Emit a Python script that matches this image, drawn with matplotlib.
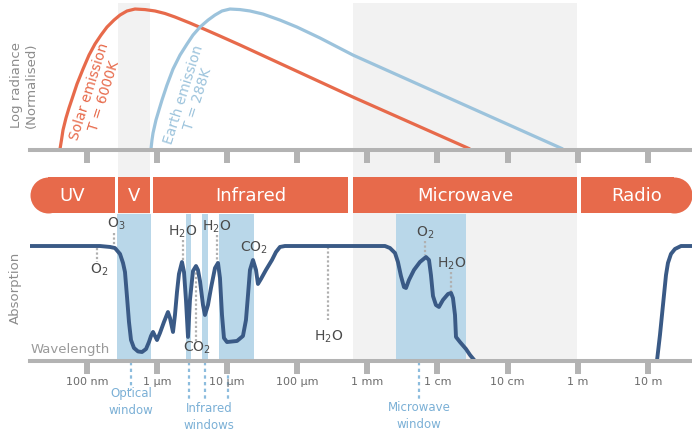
import numpy as np
import matplotlib
matplotlib.use("Agg")
import matplotlib.pyplot as plt
from matplotlib.transforms import blended_transform_factory

# x values are log10(wavelength in metres)
tick_pos = [-7, -6, -5, -4, -3, -2, -1, 0, 1]
tick_labels = ["100 nm", "1 µm", "10 µm", "100 µm", "1 mm", "1 cm", "10 cm", "1 m", "10 m"]

band_names = ["UV", "V", "Infrared", "Microwave", "Radio"]
band_start = [-7.813, -6.558, -6.058, -3.205, 0.047]
band_end = [-6.601, -6.101, -3.277, -0.010, 1.631]

gray_start = [-6.558, -3.205]
gray_end = [-6.101, -0.010]

window_start = [-6.572, -5.588, -5.360, -5.117, -2.592]
window_end = [-6.087, -5.516, -5.274, -4.618, -1.593]

# normalised log radiance
solar_x = [-7.385, -7.364, -7.342, -7.300, -7.257, -7.214, -7.143, -7.057, -6.971, -6.886,
           -6.800, -6.715, -6.615, -6.529, -6.429, -6.315, -6.173, -6.030, -5.887, -5.745,
           -5.531, -5.317, -5.103, -4.817, -3.205, -1.536]
solar_y = [0.0, 0.064, 0.136, 0.221, 0.293, 0.357, 0.464, 0.571, 0.671, 0.750,
           0.814, 0.871, 0.921, 0.957, 0.986, 1.0, 0.996, 0.986, 0.968, 0.943,
           0.900, 0.854, 0.807, 0.743, 0.371, 0.0]

earth_x = [-6.087, -6.073, -6.058, -6.016, -5.973, -5.930, -5.859, -5.773, -5.673, -5.573,
           -5.488, -5.388, -5.273, -5.174, -5.074, -4.960, -4.817, -4.675, -4.489, -4.247,
           -4.004, -3.676, -3.205, -1.679, -0.210]
earth_y = [0.0, 0.064, 0.114, 0.207, 0.279, 0.350, 0.457, 0.571, 0.671, 0.750,
           0.814, 0.871, 0.921, 0.957, 0.986, 1.0, 0.996, 0.986, 0.964, 0.921,
           0.871, 0.793, 0.671, 0.329, 0.0]

# atmospheric absorption (1 = opaque)
abs_x = [-7.813, -6.815, -6.672, -6.601, -6.529, -6.486, -6.458, -6.429, -6.401, -6.372,
         -6.330, -6.272, -6.215, -6.158, -6.116, -6.087, -6.058, -6.030, -6.001, -5.959,
         -5.902, -5.845, -5.816, -5.773, -5.745, -5.716, -5.688, -5.645, -5.616, -5.588,
         -5.559, -5.531, -5.488, -5.445, -5.417, -5.388, -5.345, -5.317, -5.274, -5.231,
         -5.174, -5.131, -5.103, -5.074, -5.046, -5.003, -4.860, -4.775, -4.732, -4.703,
         -4.675, -4.632, -4.589, -4.561, -4.518, -4.447, -4.361, -4.304, -4.247, -4.176,
         -2.749, -2.678, -2.606, -2.564, -2.521, -2.478, -2.449, -2.407, -2.335, -2.250,
         -2.164, -2.121, -2.093, -2.064, -2.022, -1.979, -1.922, -1.850, -1.807, -1.779,
         -1.750, -1.736, -1.679, -1.593, -1.536, -1.465]
abs_y = [1.0, 1.0, 0.991, 0.981, 0.925, 0.840, 0.755, 0.519, 0.283, 0.113,
         0.038, 0.005, 0.0, 0.028, 0.094, 0.151, 0.189, 0.151, 0.113, 0.179,
         0.283, 0.377, 0.321, 0.189, 0.349, 0.566, 0.736, 0.849, 0.755, 0.491,
         0.142, 0.491, 0.764, 0.811, 0.774, 0.670, 0.443, 0.349, 0.443, 0.604,
         0.792, 0.840, 0.698, 0.349, 0.132, 0.094, 0.104, 0.151, 0.302, 0.538,
         0.774, 0.868, 0.774, 0.642, 0.689, 0.774, 0.868, 0.943, 0.991, 1.0,
         1.0, 0.981, 0.934, 0.849, 0.717, 0.613, 0.604, 0.679, 0.774, 0.849,
         0.896, 0.868, 0.726, 0.528, 0.443, 0.425, 0.491, 0.547, 0.557, 0.509,
         0.349, 0.142, 0.094, 0.028, -0.028, -0.085]
radio_x = [1.131, 1.174, 1.217, 1.260, 1.288, 1.331, 1.388, 1.474, 1.631]
radio_y = [-0.085, 0.160, 0.443, 0.726, 0.840, 0.925, 0.972, 1.0, 1.0]

# molecule labels: text, label x, label y, leader x, leader top, leader bottom
mol_text = ["O$_3$", "O$_2$", "H$_2$O", "CO$_2$", "H$_2$O", "CO$_2$", "H$_2$O", "O$_2$", "H$_2$O"]
mol_x = [-6.587, -6.829, -5.631, -5.431, -5.146, -4.618, -3.548, -2.178, -1.793]
mol_y = [1.208, 0.774, 1.132, 0.038, 1.179, 0.981, 0.142, 1.123, 0.830]
lead_x = [-6.615, -6.857, -5.631, -5.445, -5.146, None, -3.562, -2.178, -1.807]
lead_y0 = [1.123, 0.981, 1.057, 0.792, 1.104, None, 0.991, 1.047, 0.755]
lead_y1 = [0.991, 0.849, 0.868, 0.094, 0.849, None, 0.302, 0.915, 0.566]

marker_x = [-6.372, -5.545, -5.317, -4.989, -2.264]
marker_len = [0.197, 0.265, 0.265, 0.265, 0.265]
win_text = ["Optical\nwindow", "Infrared\nwindows", "Microwave\nwindow"]
win_x = [-6.372, -5.26, -2.264]
win_y = [-0.279, -0.381, -0.374]

red = "#e76a4b"
lblue = "#9cc3dc"
wblue = "#b9d7e9"
dark = "#3a5a86"
axgray = "#b3b3b3"
xlim = (-7.813, 1.631)

W, H = 692, 437
fig = plt.figure(figsize=(W / 100, H / 100), dpi=100)


def axes_px(top, bottom, zorder):
    a = fig.add_axes([30 / W, 1 - bottom / H, (W - 30) / W, (bottom - top) / H], zorder=zorder)
    a.set_xlim(*xlim)
    a.patch.set_alpha(0)
    return a


# grey background regions
ax_bg = axes_px(3, 361, 0)
ax_bg.axis("off")
for s, e in zip(gray_start, gray_end):
    ax_bg.axvspan(s, e, color="#f2f2f2", lw=0)

# radiance panel
ax_r = axes_px(3, 150, 1)
ax_r.set_ylim(-0.007, 1.043)
ax_r.plot(solar_x, solar_y, color=red, lw=2.3, solid_capstyle="butt")
ax_r.plot(earth_x, earth_y, color=lblue, lw=2.3, solid_capstyle="butt")
ax_r.text(-6.86, 0.393, "Solar emission\nT = 6000K", color=red, fontsize=10, rotation=72.5,
          ha="center", va="center", multialignment="center", linespacing=1.15)
ax_r.text(-5.52, 0.371, "Earth emission\nT = 288K", color=lblue, fontsize=10, rotation=72.5,
          ha="center", va="center", multialignment="center", linespacing=1.15)

# band
ax_b = axes_px(177, 213, 2)
ax_b.set_ylim(0, 1)
ax_b.axis("off")
ppd = ax_b.bbox.width / (xlim[1] - xlim[0])
r = 18 / ppd
for i, (name, s, e) in enumerate(zip(band_names, band_start, band_end)):
    s2 = s + r if i == 0 else s
    e2 = e - r if i == len(band_names) - 1 else e
    ax_b.barh(0.5, e2 - s2, left=s2, height=1, color=red, lw=0)
    ax_b.text((s + e) / 2, 0.47, name, color="white", fontsize=13, ha="center", va="center")
ax_b.plot([band_start[0] + r], [0.5], "o", ms=25.9, color=red, mew=0, clip_on=False)
ax_b.plot([band_end[-1] - r], [0.5], "o", ms=25.9, color=red, mew=0, clip_on=False)

# absorption panel
ax_a = axes_px(214, 361, 1)
ax_a.set_ylim(-0.085, 1.302)
for s, e in zip(window_start, window_end):
    ax_a.axvspan(s, e, color=wblue, lw=0, zorder=0)
for x, y0, y1 in zip(lead_x, lead_y0, lead_y1):
    if x is not None:
        ax_a.plot([x, x], [y0, y1], color="#b0b0b0", lw=1.6, ls=(0, (1, 1)), zorder=1)
ax_a.plot(abs_x, abs_y, color=dark, lw=2.8, zorder=2, solid_joinstyle="round")
ax_a.plot(radio_x, radio_y, color=dark, lw=2.8, zorder=2, solid_joinstyle="round")
for t, x, y in zip(mol_text, mol_x, mol_y):
    ax_a.text(x, y, t, fontsize=10, color="#4a4a4a", ha="center", va="center", zorder=3)

trans = blended_transform_factory(ax_a.transData, ax_a.transAxes)
for x, l in zip(marker_x, marker_len):
    ax_a.plot([x, x], [-0.01, -l], transform=trans, color="#8cbcdd", lw=1.6,
              ls=(0, (1.5, 1.5)), clip_on=False, zorder=0)
for t, x, y in zip(win_text, win_x, win_y):
    ax_a.text(x, y, t, transform=trans, fontsize=8.5, color="#7bb0d6", ha="center",
              va="center", linespacing=1.35)

for a in (ax_r, ax_a):
    for sp in ("left", "right", "top"):
        a.spines[sp].set_visible(False)
    a.spines["bottom"].set_color(axgray)
    a.spines["bottom"].set_linewidth(2.9)
    a.spines["bottom"].set_zorder(4)
    a.set_yticks([])
    a.set_xticks(tick_pos)
    a.tick_params(axis="x", direction="out", length=9, width=4.3, color=axgray,
                  labelsize=8, labelcolor="#6b6b6b", pad=2.5)
ax_r.set_xticklabels([])
ax_a.set_xticklabels(tick_labels)

fig.text(24 / W, 1 - 85 / H, "Log radiance\n(Normalised)", rotation=90, ha="center", va="center",
         color="#8c8c8c", fontsize=9.5, linespacing=1.1)
fig.text(15 / W, 1 - 288 / H, "Absorption", rotation=90, ha="center", va="center",
         color="#8c8c8c", fontsize=9.5)
fig.text(31 / W, 1 - 349 / H, "Wavelength", ha="left", va="center", color="#9a9a9a", fontsize=9.5)

fig.savefig("out.png", dpi=100)
